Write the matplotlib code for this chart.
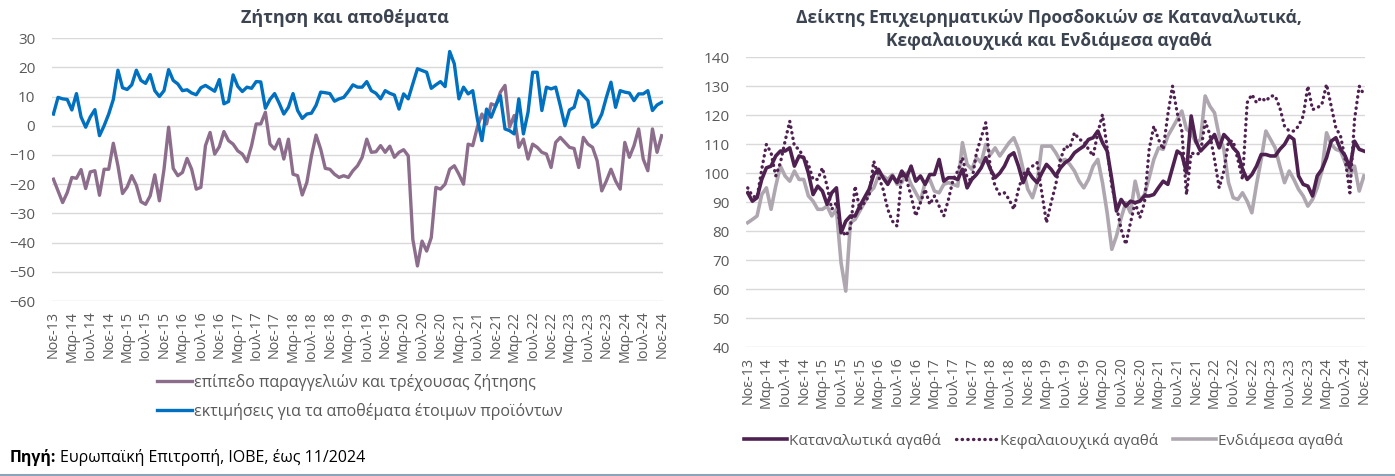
import numpy as np
import matplotlib.pyplot as plt
from matplotlib.lines import Line2D

plt.rcParams['font.family'] = ['Open Sans', 'DejaVu Sans']

# labels every 4 months, Nov-13 .. Nov-24
tick_labels = ["Νοε-13", "Μαρ-14", "Ιουλ-14", "Νοε-14", "Μαρ-15", "Ιουλ-15", "Νοε-15",
               "Μαρ-16", "Ιουλ-16", "Νοε-16", "Μαρ-17", "Ιουλ-17", "Νοε-17",
               "Μαρ-18", "Ιουλ-18", "Νοε-18", "Μαρ-19", "Ιουλ-19", "Νοε-19",
               "Μαρ-20", "Ιουλ-20", "Νοε-20", "Μαρ-21", "Ιουλ-21", "Νοε-21",
               "Μαρ-22", "Ιουλ-22", "Νοε-22", "Μαρ-23", "Ιουλ-23", "Νοε-23",
               "Μαρ-24", "Ιουλ-24", "Νοε-24"]

# left chart
demand = [-18.3, -22.3, -26.3, -22.9, -17.7, -18, -15, -21.5, -15.8, -15.4,
          -23.8, -14.9, -14.9, -6, -13.7, -23.2, -21, -17.1, -20.4, -26,
          -26.9, -24, -16.8, -25.7, -14.9, -0.5, -14.6, -17.1, -16, -11.2,
          -14.9, -21.7, -21.1, -6.8, -2.3, -9.7, -7.2, -2, -5.1, -6.3,
          -8.6, -9.7, -12.3, -6.8, 0.6, 0.6, 4.6, -6.3, -8, -4.6,
          -11.4, -4.6, -16.6, -17.1, -23.7, -19.4, -10.3, -3.2, -8, -14.6,
          -14.9, -16.6, -17.7, -17.1, -17.7, -15.4, -13.7, -10.8, -4.6, -9.1,
          -8.9, -6.8, -9.1, -7, -10.8, -9.1, -8.2, -10.3, -38.9, -48,
          -39.5, -42.9, -38.3, -21.1, -21.7, -20, -14.9, -13.7, -16.6, -20,
          -6.3, -6.8, -0.5, 4, 0.6, 7.5, 6.9, 11.5, 13.8, -0.5,
          3.5, -7.4, -4.6, -11.4, -6.3, -7.4, -9.1, -9.7, -14.3, -5.7,
          -4, -5.7, -7.4, -7.8, -14.3, -4, -6.3, -7.4, -12, -22.3,
          -18.9, -14.9, -18.9, -21.7, -5.7, -10.8, -6.8, -1.1, -11.4, -15.4,
          -1.1, -9.1, -3.4]
stocks = [4, 9.7, 9.2, 9, 5.4, 11, 3, -0.5, 3, 5.5,
          -3.4, 0, 4, 9, 19, 13, 12.4, 14, 19, 15.5,
          14.5, 17.5, 12, 10, 12, 19.2, 15.5, 14.3, 12, 12.3,
          11.2, 10.6, 13, 13.8, 12.8, 11.8, 15.8, 7.5, 8.3, 17.4,
          13.5, 11.7, 13.2, 12.8, 15.1, 15, 6, 9, 11, 7.7,
          4, 6.3, 11, 5.2, 2.5, 4, 4.3, 7, 11.5, 11.3,
          11, 8.4, 9.2, 9.7, 11.7, 14, 13.2, 13.2, 15.1, 12,
          11.1, 9.2, 12, 11.1, 10.5, 5.7, 10.9, 9.2, 14.3, 19.5,
          18.9, 18.3, 12.8, 14, 15.1, 13.4, 25.4, 21.2, 9.2, 13.2,
          10.9, 12, 2.3, -5.1, 5.7, 2.9, 6.9, 10.3, -1.1, -1.7,
          -2.8, 9.2, -2.8, 4.6, 18.3, 18.3, 5.2, 13.2, 12.6, 13.2,
          6.9, 0, 5.4, 6.3, 12, 10.3, 8.6, -0.5, 0.8, 4,
          9.7, 14.9, 6.3, 12, 11.5, 11.2, 8.6, 10.9, 10.9, 12,
          5.2, 7.1, 8]

# right chart
consumer = [93.2, 90.3, 91.5, 97.8, 101.8, 102.4, 105.9, 107.6, 107.6, 108.7,
            102.4, 105.9, 105.3, 100, 92.6, 95.5, 93.8, 89.2, 93.2, 94.9,
            79.4, 83.4, 85.2, 85.2, 88.6, 91.5, 94.4, 99.5, 101.3, 98.4,
            96.1, 99, 96.7, 100.7, 98.4, 102.4, 97.2, 99, 96.1, 99.5,
            99.5, 104.7, 97.2, 98.4, 98.4, 97.8, 101.3, 94.9, 97.8, 99.5,
            101.8, 105.3, 101.3, 98.4, 100, 102.4, 105.9, 107, 102.4, 96.7,
            100.7, 98.4, 96.7, 100, 103, 101.3, 99, 101.8, 103.6, 104.7,
            107, 108.2, 109.3, 111.6, 112.2, 114.5, 110.5, 107.6, 97.8, 86.9,
            90.9, 88.6, 90.3, 89.8, 90.3, 92.1, 92.1, 92.6, 95, 97.2,
            96.1, 101.8, 107.6, 106.4, 100.1, 119.7, 111, 107.6, 109.3, 111,
            113.3, 108.7, 113.3, 111.6, 108.7, 107, 101.3, 97.8, 99.5, 102.4,
            106.4, 106.4, 105.9, 105.9, 108.2, 109.9, 112.8, 111.6, 99, 96.1,
            95.5, 92.1, 99, 101.3, 105.3, 111, 112.2, 108.2, 105.9, 101.8,
            111, 108.2, 107.6]
capital = [94.9, 92.1, 91.5, 101.3, 109.9, 107, 99, 103.6, 111, 117.9,
           109.3, 108.2, 105.3, 103, 97.8, 97.8, 101.8, 95.5, 87.5, 89.8,
           80.6, 78.3, 81.1, 95.5, 87.5, 89.8, 92.1, 104.1, 99, 94.4,
           87.5, 83.4, 81.7, 100, 97.8, 92.1, 85.2, 89.8, 94.4, 89.2,
           92.1, 88.6, 85.2, 90.9, 97.8, 100.7, 105.3, 98.4, 97.2, 107,
           112.2, 117.4, 101.3, 95.5, 92.6, 93.2, 90.9, 87.5, 94.4, 99.5,
           101.3, 102.4, 103.6, 93.2, 82.9, 89.8, 96.1, 104.7, 109.3, 108.7,
           113.9, 111.6, 111, 108.2, 105.9, 113.9, 120.2, 108.7, 95.5, 88.6,
           80.6, 75.4, 82.9, 89.8, 84.6, 89.8, 108.2, 116.2, 111.6, 108.2,
           120.2, 130, 120.8, 114.5, 92.6, 107, 106.4, 107, 117.9, 113.3,
           104.7, 94.9, 100.7, 111, 111, 104.7, 97.8, 124.3, 127.1, 124.3,
           126, 124.8, 126.6, 126.6, 122.5, 116.2, 114.5, 114.5, 116.2, 119.7,
           130, 121.9, 122.5, 123.7, 130.6, 123.1, 115.6, 112.8, 104.7, 93.2,
           118.5, 130, 127.1]
intermediate = [82.9, 84, 85.2, 92.6, 94.9, 87.5, 95.5, 102.4, 99, 97.2,
                100.7, 97.8, 97.8, 92.1, 90.3, 87.5, 87.5, 88.6, 85.2, 87.5,
                69, 59.3, 82.9, 84, 86.9, 89.8, 93.2, 94.9, 99, 99,
                97.8, 99.5, 96.1, 96.7, 100, 96.1, 93.2, 90.3, 96.7, 97.8,
                93.8, 93.2, 96.1, 96.7, 96.1, 95.5, 110.5, 103, 101.3, 105.3,
                103.6, 109.9, 106.4, 108.7, 105.9, 108.2, 110.5, 112.2, 108.2, 101.3,
                94.4, 91.5, 96.7, 109.3, 109.3, 109.3, 107, 104.1, 104.7, 103,
                100.7, 97.2, 94.9, 97.8, 102.4, 104.7, 96.7, 86.3, 73.7, 78.3,
                84.6, 89.8, 86.3, 97.2, 90.3, 92.6, 98.4, 104.7, 108.7, 108.2,
                112.8, 115.6, 118.5, 121.4, 115.1, 113.9, 110.5, 111.6, 126.6, 123.1,
                120.8, 112.8, 108.2, 96.7, 91.5, 90.9, 93.2, 90.3, 86.3, 96.1,
                104.7, 114.5, 111.6, 108.7, 102.4, 96.7, 100.7, 97.8, 94.4, 92.1,
                88.6, 90.9, 94.9, 100.7, 113.9, 109.9, 108.2, 107.6, 103.6, 99,
                102.4, 93.8, 99]

TXT = '#595959'
GRID = '#D9D9D9'
TITLE = '#3B4450'

fig = plt.figure(figsize=(13.95, 4.76), dpi=100)

def style(ax, ylim, yticks):
    for s in ax.spines.values():
        s.set_visible(False)
    ax.set_ylim(*ylim)
    ax.set_yticks(yticks)
    ax.grid(axis='y', color=GRID, lw=1)
    ax.set_axisbelow(True)
    ax.tick_params(axis='y', length=0, colors=TXT, labelsize=11, pad=12)
    n = len(tick_labels)
    ax.set_xticks(np.arange(n) * 4)
    ax.set_xticklabels(tick_labels, rotation=90, fontsize=10.3)
    ax.set_xlim(-0.3, 132.3)
    ax.tick_params(axis='x', length=0, colors=TXT, pad=7)

# left
ax1 = fig.add_axes([0.0373, 0.3676, 0.438, 0.5524])
x = np.arange(len(demand))
l1, = ax1.plot(x, demand, color='#8C6E8C', lw=2.4, solid_joinstyle='round')
l2, = ax1.plot(np.arange(len(stocks)), stocks, color='#0070C0', lw=2.4, solid_joinstyle='round')
style(ax1, (-60, 30), np.arange(-60, 31, 10))
fig.text(0.247, 0.962, "Ζήτηση και αποθέματα", ha='center', va='center',
         fontsize=13, fontweight='bold', color=TITLE)
fig.legend([l1, l2], ["επίπεδο παραγγελιών και τρέχουσας ζήτησης",
                      "εκτιμήσεις για τα αποθέματα έτοιμων προϊόντων"],
           loc='center', bbox_to_anchor=(0.258, 0.166), frameon=False,
           fontsize=11.5, labelcolor=TXT, handlelength=2.2, handletextpad=0.1,
           labelspacing=0.75)

# right
ax2 = fig.add_axes([0.535, 0.271, 0.4437, 0.609])
xr = np.arange(len(consumer))
r1, = ax2.plot(xr, consumer, color='#4F2150', lw=2.6, solid_joinstyle='round', zorder=3)
r2, = ax2.plot(np.arange(len(capital)), capital, color='#4F2150', lw=2.4,
               linestyle=(0, (0.1, 1.6)), dash_capstyle='round', zorder=2)
r3, = ax2.plot(np.arange(len(intermediate)), intermediate, color='#AFA7B0', lw=2.6,
               solid_joinstyle='round', zorder=1)
style(ax2, (40, 140), np.arange(40, 141, 10))
fig.text(0.752, 0.962, "Δείκτης Επιχειρηματικών Προσδοκιών σε Καταναλωτικά,",
         ha='center', va='center', fontsize=12.5, fontweight='bold', color=TITLE)
fig.text(0.752, 0.914, "Κεφαλαιουχικά και Ενδιάμεσα αγαθά",
         ha='center', va='center', fontsize=12.5, fontweight='bold', color=TITLE)
fig.legend([r1, r2, r3], ["Καταναλωτικά αγαθά", "Κεφαλαιουχικά αγαθά", "Ενδιάμεσα αγαθά"],
           loc='center', bbox_to_anchor=(0.748, 0.074), ncol=3, frameon=False,
           fontsize=11, labelcolor=TXT, handlelength=2.8, handletextpad=0.1,
           columnspacing=1.0)

# source note
src1 = fig.text(0.007, 0.038, "Πηγή:", fontsize=11.5, fontweight='bold',
                color='#000000', va='center')
fig.canvas.draw()
bb = src1.get_window_extent()
fig.text(bb.x1 / fig.bbox.width + 0.003, 0.038, "Ευρωπαϊκή Επιτροπή, ΙΟΒΕ, έως 11/2024",
         fontsize=11.5, color='#000000', va='center')
fig.add_artist(Line2D([0, 1], [0.003, 0.003], color='#8EA2B8', lw=1.5))

fig.savefig('out.png', dpi=100)
